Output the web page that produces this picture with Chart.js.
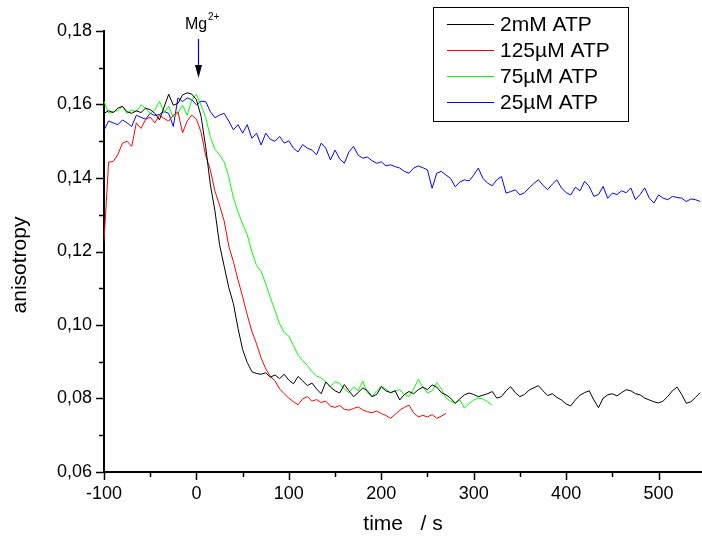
<!DOCTYPE html>
<html>
<head>
<meta charset="utf-8">
<script src="https://cdn.jsdelivr.net/npm/chart.js@4.4.1/dist/chart.umd.min.js"></script>
<style>
    html, body { margin: 0; padding: 0; background: #fff; }
</style>
</head>
<body>
<canvas id="anisoChart" width="702" height="538"></canvas>
<script>
// time axis (s), shared by all traces
const times = [
    -100, -95, -90, -85, -80, -75, -70, -65, -60, -55, -50, -45, -40, -35, -30, -25, -20, -15, -10, -5,
    0, 5, 10, 15, 20, 25, 30, 35, 40, 45, 50, 55, 60, 65, 70, 75, 80, 85, 90, 95,
    100, 105, 110, 115, 120, 125, 130, 135, 140, 145, 150, 155, 160, 165, 170, 175, 180, 185, 190, 195,
    200, 205, 210, 215, 220, 225, 230, 235, 240, 245, 250, 255, 260, 265, 270, 275, 280, 285, 290, 295,
    300, 305, 310, 315, 320, 325, 330, 335, 340, 345, 350, 355, 360, 365, 370, 375, 380, 385, 390, 395,
    400, 405, 410, 415, 420, 425, 430, 435, 440, 445, 450, 455, 460, 465, 470, 475, 480, 485, 490, 495,
    500, 505, 510, 515, 520, 525, 530, 535, 540, 545,
];

const seriesNames = ['2mM ATP', '125µM ATP', '75µM ATP', '25µM ATP'];

const atp2mM = [
    0.1576, 0.1583, 0.1578, 0.1590, 0.1595, 0.1580, 0.1576, 0.1583, 0.1578, 0.1590,
    0.1586, 0.1576, 0.1558, 0.1593, 0.1628, 0.1598, 0.1603, 0.1626, 0.1632, 0.1628,
    0.1613, 0.1568, 0.1485, 0.1383, 0.1311, 0.1219, 0.1160, 0.1102, 0.1058, 0.0991,
    0.0933, 0.0898, 0.0873, 0.0868, 0.0866, 0.0870, 0.0858, 0.0864, 0.0854, 0.0866,
    0.0850, 0.0840, 0.0860, 0.0848, 0.0835, 0.0842, 0.0826, 0.0813, 0.0845, 0.0831,
    0.0821, 0.0815, 0.0838, 0.0821, 0.0805, 0.0816, 0.0829, 0.0821, 0.0805, 0.0811,
    0.0832, 0.0821, 0.0816, 0.0821, 0.0796, 0.0811, 0.0819, 0.0813, 0.0824, 0.0831,
    0.0824, 0.0837, 0.0831, 0.0816, 0.0810, 0.0801, 0.0787, 0.0799, 0.0810, 0.0815,
    0.0811, 0.0805, 0.0809, 0.0813, 0.0819, 0.0801, 0.0805, 0.0821, 0.0832, 0.0816,
    0.0805, 0.0811, 0.0823, 0.0829, 0.0835, 0.0821, 0.0808, 0.0813, 0.0803, 0.0796,
    0.0785, 0.0780, 0.0796, 0.0809, 0.0816, 0.0821, 0.0796, 0.0775, 0.0801, 0.0810,
    0.0813, 0.0807, 0.0816, 0.0824, 0.0821, 0.0813, 0.0810, 0.0801, 0.0796, 0.0791,
    0.0788, 0.0793, 0.0806, 0.0821, 0.0831, 0.0811, 0.0787, 0.0791, 0.0803, 0.0816,
];

const atp125uM = [
    0.1228, 0.1443, 0.1445, 0.1464, 0.1495, 0.1500, 0.1486, 0.1550, 0.1535, 0.1559,
    0.1566, 0.1550, 0.1571, 0.1562, 0.1555, 0.1571, 0.1580, 0.1523, 0.1555, 0.1571,
    0.1560, 0.1525, 0.1461, 0.1423, 0.1365, 0.1326, 0.1283, 0.1215, 0.1172, 0.1123,
    0.1077, 0.1027, 0.0983, 0.0949, 0.0910, 0.0881, 0.0860, 0.0848, 0.0826, 0.0813,
    0.0801, 0.0791, 0.0783, 0.0799, 0.0805, 0.0793, 0.0797, 0.0789, 0.0793, 0.0779,
    0.0776, 0.0781, 0.0771, 0.0768, 0.0773, 0.0777, 0.0769, 0.0764, 0.0761, 0.0766,
    0.0759, 0.0754, 0.0746, 0.0757, 0.0768, 0.0776, 0.0782, 0.0761, 0.0750, 0.0754,
    0.0750, 0.0756, 0.0746, 0.0752, 0.0759,
];

const atp75uM = [
    0.1609, 0.1576, 0.1581, 0.1583, 0.1595, 0.1576, 0.1585, 0.1580, 0.1599, 0.1590,
    0.1576, 0.1585, 0.1609, 0.1578, 0.1595, 0.1566, 0.1576, 0.1598, 0.1571, 0.1613,
    0.1628, 0.1598, 0.1565, 0.1513, 0.1478, 0.1463, 0.1444, 0.1403, 0.1346, 0.1308,
    0.1275, 0.1246, 0.1199, 0.1162, 0.1146, 0.1112, 0.1074, 0.1040, 0.1003, 0.0979,
    0.0970, 0.0944, 0.0918, 0.0903, 0.0890, 0.0873, 0.0861, 0.0856, 0.0846, 0.0833,
    0.0846, 0.0841, 0.0826, 0.0816, 0.0831, 0.0821, 0.0847, 0.0816, 0.0805, 0.0821,
    0.0833, 0.0826, 0.0815, 0.0821, 0.0824, 0.0811, 0.0805, 0.0826, 0.0852, 0.0831,
    0.0815, 0.0821, 0.0843, 0.0826, 0.0801, 0.0793, 0.0787, 0.0796, 0.0774, 0.0786,
    0.0796, 0.0801, 0.0799, 0.0791, 0.0782,
];

const atp25uM = [
    0.1530, 0.1555, 0.1550, 0.1545, 0.1558, 0.1550, 0.1540, 0.1571, 0.1565, 0.1560,
    0.1576, 0.1570, 0.1573, 0.1581, 0.1576, 0.1540, 0.1618, 0.1608, 0.1618, 0.1613,
    0.1599, 0.1609, 0.1608, 0.1581, 0.1564, 0.1571, 0.1576, 0.1555, 0.1531, 0.1545,
    0.1522, 0.1545, 0.1508, 0.1522, 0.1490, 0.1522, 0.1505, 0.1500, 0.1513, 0.1495,
    0.1501, 0.1481, 0.1471, 0.1491, 0.1481, 0.1476, 0.1463, 0.1495, 0.1481, 0.1449,
    0.1476, 0.1452, 0.1440, 0.1471, 0.1486, 0.1462, 0.1454, 0.1457, 0.1447, 0.1440,
    0.1444, 0.1433, 0.1436, 0.1431, 0.1427, 0.1418, 0.1413, 0.1427, 0.1433, 0.1428,
    0.1422, 0.1372, 0.1413, 0.1418, 0.1408, 0.1399, 0.1376, 0.1389, 0.1395, 0.1392,
    0.1408, 0.1427, 0.1399, 0.1386, 0.1379, 0.1395, 0.1404, 0.1359, 0.1363, 0.1368,
    0.1354, 0.1360, 0.1373, 0.1385, 0.1395, 0.1380, 0.1368, 0.1383, 0.1395, 0.1373,
    0.1360, 0.1354, 0.1375, 0.1365, 0.1391, 0.1377, 0.1350, 0.1355, 0.1377, 0.1345,
    0.1359, 0.1355, 0.1365, 0.1360, 0.1373, 0.1341, 0.1355, 0.1373, 0.1345, 0.1332,
    0.1354, 0.1345, 0.1341, 0.1350, 0.1347, 0.1345, 0.1336, 0.1343, 0.1341, 0.1336,
];

const seriesColors = ['#000000', '#ff0000', '#00ff00', '#0000ff'];
const xTickValues = [-100, -50, 0, 50, 100, 150, 200, 250, 300, 350, 400, 450, 500];
const yTickValues = [0.06, 0.07, 0.08, 0.09, 0.10, 0.11, 0.12, 0.13, 0.14, 0.15, 0.16, 0.17, 0.18];

Chart.defaults.font.family = "'Liberation Sans', Arial, sans-serif";
Chart.defaults.color = '#000';

const toPoints = (vals) => vals.map((v, i) => ({ x: times[i], y: v }));
const allSeries = [atp2mM, atp125uM, atp75uM, atp25uM];

// tick marks, legend box, Mg2+ arrow and y title
const decorations = {
    id: 'decorations',
    afterDraw(chart) {
        const ctx = chart.ctx;
        const xs = chart.scales.x;
        const ys = chart.scales.y;
        const area = chart.chartArea;
        ctx.save();
        ctx.strokeStyle = '#000';
        ctx.fillStyle = '#000';
        ctx.lineWidth = 1.5;
        ctx.beginPath();
        xTickValues.forEach((v) => {
            const px = Math.round(xs.getPixelForValue(v)) + 0.5;
            const len = v % 100 === 0 ? 8 : 5;
            ctx.moveTo(px, area.bottom);
            ctx.lineTo(px, area.bottom + len);
        });
        yTickValues.forEach((v) => {
            const py = Math.round(ys.getPixelForValue(v)) + 0.5;
            const len = Math.round(v * 100) % 2 === 0 ? 8 : 5;
            ctx.moveTo(area.left, py);
            ctx.lineTo(area.left - len, py);
        });
        ctx.stroke();

        // y axis title
        ctx.save();
        ctx.translate(20, 265);
        ctx.rotate(-Math.PI / 2);
        ctx.font = "21px 'Liberation Sans', Arial, sans-serif";
        ctx.textAlign = 'center';
        ctx.textBaseline = 'middle';
        ctx.fillText('anisotropy', 0, 0);
        ctx.restore();

        // legend
        ctx.fillStyle = '#fff';
        ctx.fillRect(433, 7, 195, 114);
        ctx.lineWidth = 1;
        ctx.strokeStyle = '#000';
        ctx.strokeRect(433.5, 7.5, 195, 114);
        ctx.font = "21px 'Liberation Sans', Arial, sans-serif";
        ctx.textBaseline = 'middle';
        ctx.textAlign = 'left';
        const rowsY = [24, 50, 76, 102];
        seriesNames.forEach((name, i) => {
            ctx.strokeStyle = seriesColors[i];
            ctx.beginPath();
            ctx.moveTo(447, rowsY[i] + 0.5);
            ctx.lineTo(494, rowsY[i] + 0.5);
            ctx.stroke();
            ctx.fillStyle = '#000';
            ctx.fillText(name, 500, rowsY[i] + 1);
        });

        // Mg2+ marker at t = 0
        const ax = Math.round(xs.getPixelForValue(0)) + 2.5;
        ctx.font = "16px 'Liberation Sans', Arial, sans-serif";
        ctx.textBaseline = 'alphabetic';
        ctx.fillText('Mg', 185, 29);
        ctx.font = "10px 'Liberation Sans', Arial, sans-serif";
        ctx.fillText('2+', 208, 20);
        ctx.lineWidth = 1.2;
        ctx.beginPath();
        ctx.moveTo(ax, 39);
        ctx.lineTo(ax, 68);
        ctx.stroke();
        ctx.beginPath();
        ctx.moveTo(ax - 3.5, 65);
        ctx.lineTo(ax + 3.5, 65);
        ctx.lineTo(ax, 78);
        ctx.closePath();
        ctx.fill();
        ctx.restore();
    },
};

new Chart(document.getElementById('anisoChart'), {
    type: 'line',
    data: {
        datasets: allSeries.map((vals, i) => ({
            label: seriesNames[i],
            data: toPoints(vals),
            borderColor: seriesColors[i],
            backgroundColor: seriesColors[i],
            borderWidth: 1,
            pointRadius: 0,
            tension: 0,
        })),
    },
    options: {
        responsive: false,
        animation: false,
        devicePixelRatio: 1,
        layout: { padding: { top: 31, right: 0, left: 0, bottom: 0 } },
        plugins: { legend: { display: false }, tooltip: { enabled: false } },
        scales: {
            x: {
                type: 'linear',
                min: -100,
                max: 547,
                afterBuildTicks: (s) => { s.ticks = xTickValues.map((v) => ({ value: v })); },
                afterFit: (s) => { s.height = 66; },
                ticks: {
                    autoSkip: false,
                    maxRotation: 0,
                    padding: 11,
                    font: { size: 18 },
                    callback: (v) => (v % 100 === 0 ? String(v) : ''),
                },
                grid: { drawOnChartArea: false, drawTicks: false },
                border: { color: '#000', width: 2 },
                title: {
                    display: true,
                    text: 'time   / s',
                    font: { size: 21 },
                    padding: { top: 0, bottom: 1 },
                },
            },
            y: {
                min: 0.06,
                max: 0.18,
                afterBuildTicks: (s) => { s.ticks = yTickValues.map((v) => ({ value: v })); },
                afterFit: (s) => { s.width = 104; },
                ticks: {
                    autoSkip: false,
                    padding: 12,
                    font: { size: 18 },
                    callback: (v) => (Math.round(v * 100) % 2 === 0 ? v.toFixed(2).replace('.', ',') : ''),
                },
                grid: { drawOnChartArea: false, drawTicks: false },
                border: { color: '#000', width: 2 },
            },
        },
    },
    plugins: [decorations],
});
</script>
</body>
</html>
